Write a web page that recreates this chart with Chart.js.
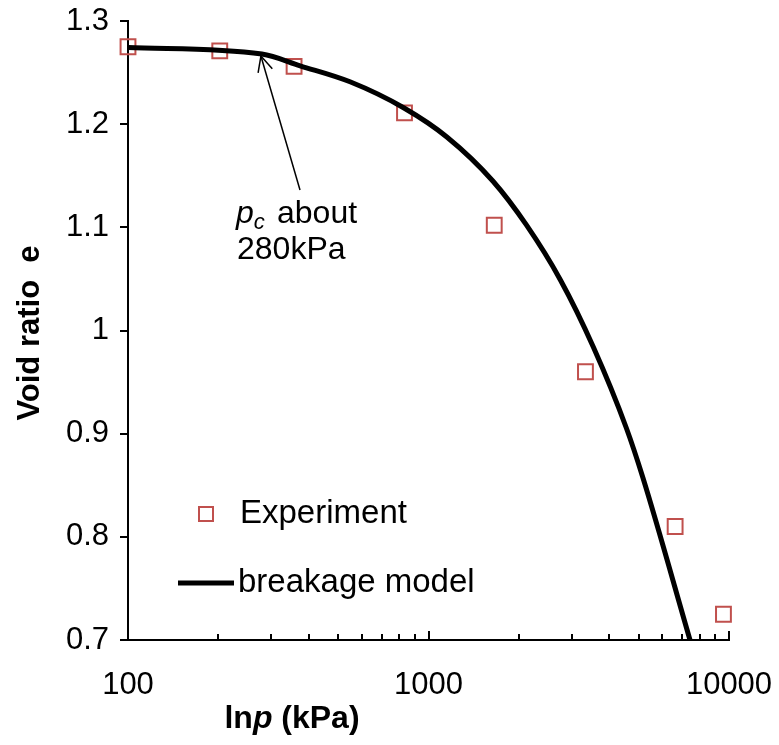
<!DOCTYPE html>
<html>
<head>
<meta charset="utf-8">
<script src="https://cdn.jsdelivr.net/npm/chart.js@4.4.1/dist/chart.umd.min.js"></script>
<style>
  html, body { margin: 0; padding: 0; background: #fff; }
  #wrap { width: 779px; height: 745px; }
</style>
</head>
<body>
<div id="wrap"><canvas id="chart" width="779" height="745"></canvas></div>
<script>
// experiment points (p in kPa, void ratio e)
const expP = [100, 202, 357, 832, 1655, 3329, 6618, 9584];
const expE = [1.275, 1.271, 1.256, 1.211, 1.102, 0.960, 0.810, 0.725];

// breakage model curve
const modelP = [100, 279, 374, 548, 829, 1151, 1637, 2117, 2748, 3536, 4554, 5174, 7417];
const modelE = [1.2743, 1.268, 1.2566, 1.2411, 1.2157, 1.1876, 1.1449, 1.1023, 1.049, 0.984, 0.9055, 0.857, 0.700];

const xTicks = [100, 1000, 10000];
const yTicks = [0.7, 0.8, 0.9, 1.0, 1.1, 1.2, 1.3];
const minorX = [200, 300, 400, 500, 600, 700, 800, 900, 2000, 3000, 4000, 5000, 6000, 7000, 8000, 9000];

const FONT = "'Liberation Sans', Arial, sans-serif";
const RED = '#c0504d';

// extra drawing: inside ticks, titles, annotation, legend
const extras = {
    id: 'extras',
    afterDraw(chart) {
        const ctx = chart.ctx;
        const x = chart.scales.x;
        const area = chart.chartArea;
        ctx.save();
        ctx.strokeStyle = '#000';
        ctx.lineWidth = 2;
        // x ticks pointing up into the plot
        xTicks.forEach(v => {
            const px = Math.round(x.getPixelForValue(v));
            ctx.beginPath();
            ctx.moveTo(px, area.bottom);
            ctx.lineTo(px, area.bottom - 9);
            ctx.stroke();
        });
        minorX.forEach(v => {
            const px = Math.round(x.getPixelForValue(v));
            ctx.beginPath();
            ctx.moveTo(px, area.bottom);
            ctx.lineTo(px, area.bottom - 6);
            ctx.stroke();
        });

        ctx.fillStyle = '#000';
        ctx.textBaseline = 'middle';

        // x title: lnp (kPa)
        const t1 = 'ln', t3 = ' (kPa)';
        ctx.font = 'bold 32px ' + FONT;
        const w1 = ctx.measureText(t1).width;
        const w3 = ctx.measureText(t3).width;
        ctx.font = 'italic bold 32px ' + FONT;
        const w2 = ctx.measureText('p').width;
        let sx = 292 - (w1 + w2 + w3) / 2;
        const ty = 719;
        ctx.textAlign = 'left';
        ctx.font = 'bold 32px ' + FONT;
        ctx.fillText(t1, sx, ty);
        ctx.font = 'italic bold 32px ' + FONT;
        ctx.fillText('p', sx + w1, ty);
        ctx.font = 'bold 32px ' + FONT;
        ctx.fillText(t3, sx + w1 + w2, ty);

        // y title
        ctx.save();
        ctx.translate(30, 333);
        ctx.rotate(-Math.PI / 2);
        ctx.textAlign = 'center';
        ctx.font = 'bold 31px ' + FONT;
        ctx.fillText('Void ratio  e', 0, 0);
        ctx.restore();

        // annotation arrow to pc
        const tipX = x.getPixelForValue(modelP[1]) - 1;
        const tipY = chart.scales.y.getPixelForValue(modelE[1]) + 2;
        const tailX = 300, tailY = 190;
        ctx.lineWidth = 1.5;
        ctx.beginPath();
        ctx.moveTo(tailX, tailY);
        ctx.lineTo(tipX, tipY);
        ctx.stroke();
        const ang = Math.atan2(tailY - tipY, tailX - tipX);
        [0.45, -0.45].forEach(d => {
            ctx.beginPath();
            ctx.moveTo(tipX, tipY);
            ctx.lineTo(tipX + 17 * Math.cos(ang + d), tipY + 17 * Math.sin(ang + d));
            ctx.stroke();
        });

        // annotation text
        ctx.textAlign = 'left';
        ctx.font = 'italic 32px ' + FONT;
        ctx.fillText('p', 236, 214);
        const pw = ctx.measureText('p').width;
        ctx.font = 'italic 22px ' + FONT;
        ctx.fillText('c', 236 + pw, 223);
        ctx.font = '32px ' + FONT;
        ctx.fillText('about', 277, 214);
        ctx.fillText('280kPa', 237, 250);

        // legend
        ctx.strokeStyle = RED;
        ctx.lineWidth = 2;
        ctx.strokeRect(199, 507, 14, 14);
        ctx.fillStyle = '#000';
        ctx.font = '33px ' + FONT;
        ctx.fillText('Experiment', 240, 514);
        ctx.strokeStyle = '#000';
        ctx.lineWidth = 5;
        ctx.beginPath();
        ctx.moveTo(178, 583);
        ctx.lineTo(234, 583);
        ctx.stroke();
        ctx.fillText('breakage model', 238, 583);
        ctx.restore();
    }
};

new Chart(document.getElementById('chart'), {
    type: 'scatter',
    data: {
        datasets: [{
            label: 'Experiment',
            data: expP.map((p, i) => ({ x: p, y: expE[i] })),
            pointStyle: 'rect',
            pointRadius: 10.5,
            borderColor: RED,
            backgroundColor: 'rgba(0,0,0,0)',
            borderWidth: 2,
            clip: false,
            order: 2
        }, {
            type: 'line',
            label: 'breakage model',
            data: modelP.map((p, i) => ({ x: p, y: modelE[i] })),
            borderColor: '#000',
            borderWidth: 5,
            pointRadius: 0,
            fill: false,
            cubicInterpolationMode: 'monotone',
            clip: false,
            order: 1
        }]
    },
    options: {
        responsive: false,
        animation: false,
        layout: { padding: { top: 21, right: 50, left: 0, bottom: 0 } },
        plugins: {
            legend: { display: false },
            tooltip: { enabled: false }
        },
        scales: {
            x: {
                type: 'logarithmic',
                min: 100,
                max: 10000,
                afterBuildTicks: s => { s.ticks = xTicks.map(v => ({ value: v })); },
                afterFit: s => { s.height = 105; s.paddingLeft = 0; s.paddingRight = 0; },
                ticks: {
                    color: '#000',
                    font: { family: FONT, size: 31 },
                    padding: 27,
                    maxRotation: 0,
                    autoSkip: false,
                    callback: v => String(v)
                },
                grid: { display: false, drawTicks: false },
                border: { display: true, color: '#000', width: 2 }
            },
            y: {
                min: 0.7,
                max: 1.3,
                afterBuildTicks: s => { s.ticks = yTicks.map(v => ({ value: v })); },
                afterFit: s => { s.width = 128; s.paddingTop = 0; s.paddingBottom = 0; },
                ticks: {
                    color: '#000',
                    font: { family: FONT, size: 31 },
                    padding: 11,
                    callback: v => String(Number(v.toFixed(1)))
                },
                grid: { drawOnChartArea: false, tickLength: 8, color: '#000', lineWidth: 2 },
                border: { display: true, color: '#000', width: 2 }
            }
        }
    },
    plugins: [extras]
});
</script>
</body>
</html>
